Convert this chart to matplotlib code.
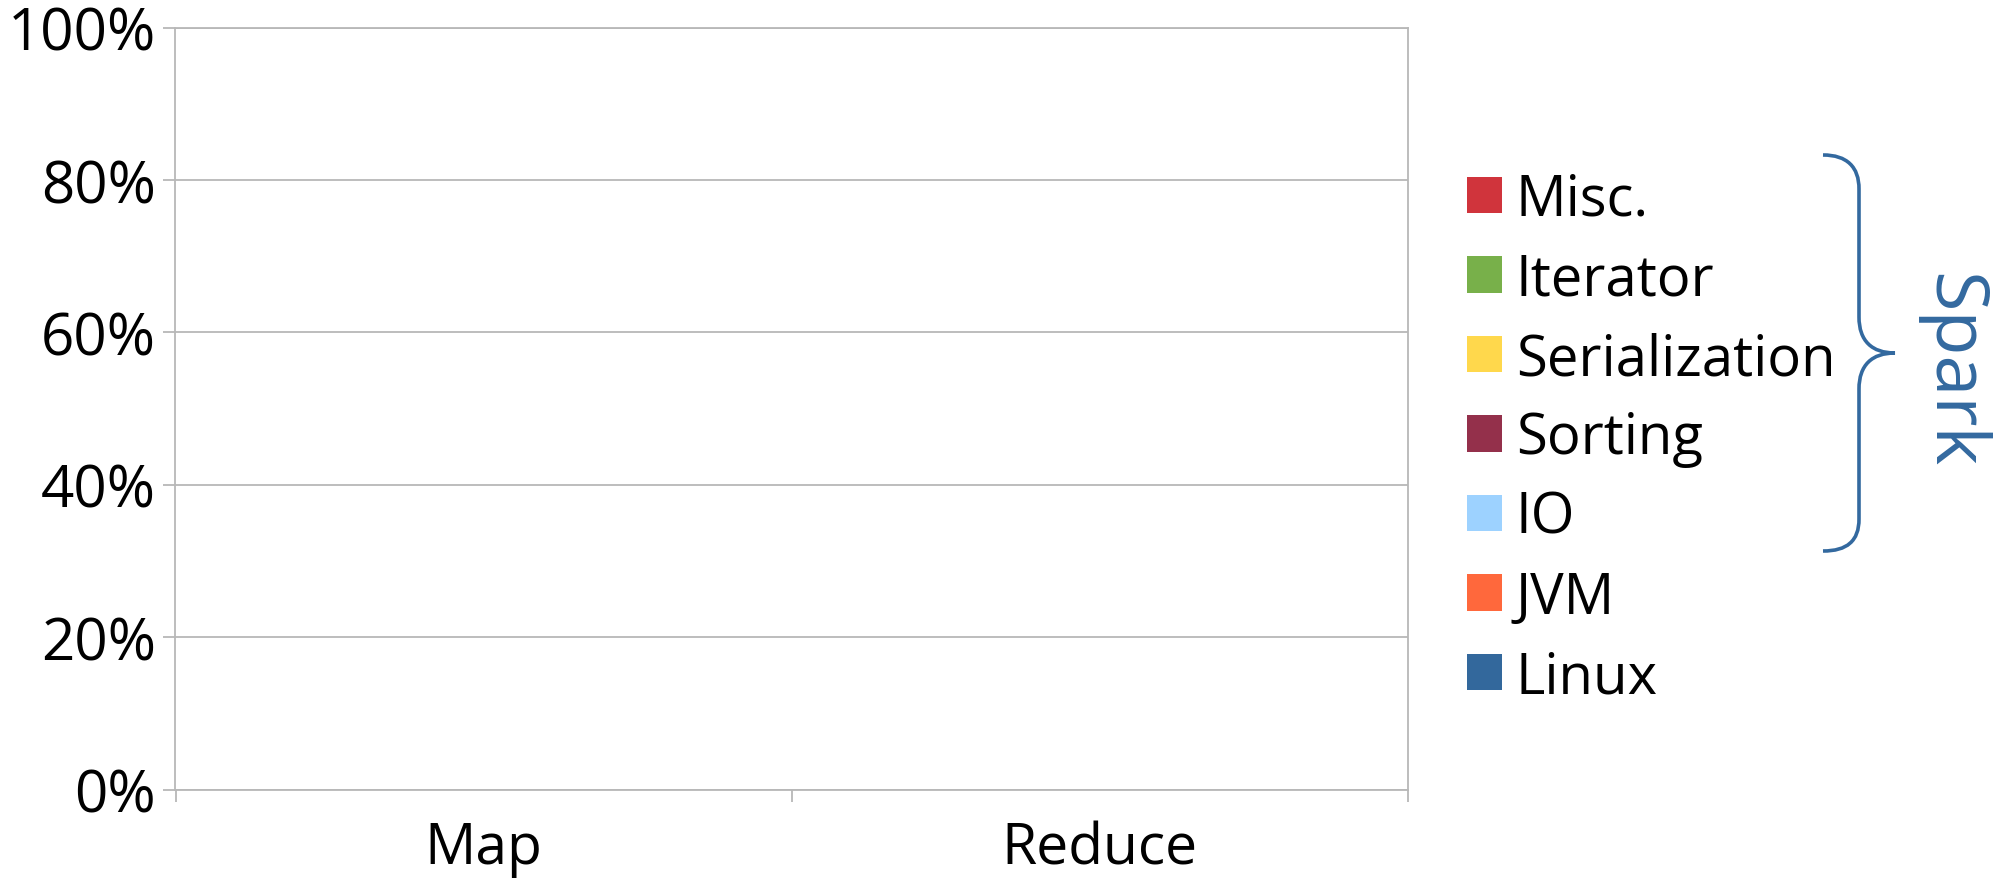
import matplotlib
matplotlib.use("Agg")
import matplotlib.pyplot as plt
from matplotlib.path import Path
from matplotlib.patches import PathPatch
from matplotlib.transforms import Affine2D
from matplotlib.ticker import FixedLocator, NullFormatter, FixedFormatter

plt.rcParams["font.family"] = ["Open Sans", "DejaVu Sans"]

# Categories and stacked series (bottom to top), shares in percent
categories = ["Map", "Reduce"]
series_names = ["Linux", "JVM", "IO", "Sorting", "Serialization", "Iterator", "Misc."]
linux = [0, 0]
jvm = [0, 0]
io = [0, 0]
sorting = [0, 0]
serialization = [0, 0]
iterator = [0, 0]
misc = [0, 0]
series_values = [linux, jvm, io, sorting, serialization, iterator, misc]
series_colors = ["#33689c", "#ff683c", "#9dd2ff", "#94304b", "#ffd84c", "#78b04a", "#d0343c"]
y_ticks = [0, 20, 40, 60, 80, 100]
y_tick_labels = ["0%", "20%", "40%", "60%", "80%", "100%"]
group_label = "Spark"

W, H = 1999, 879
fig = plt.figure(figsize=(W / 100, H / 100), dpi=100)
px = Affine2D().scale(1 / W, -1 / H).translate(0, 1) + fig.transFigure

left, right, top, bottom = 175.5, 1407.5, 28.5, 790.5
ax = fig.add_axes([left / W, 1 - bottom / H, (right - left) / W, (bottom - top) / H])

grid_grey = "#b8b8b8"
x = list(range(len(categories)))
base = [0] * len(categories)
handles = []
for name, vals, col in zip(series_names, series_values, series_colors):
    bars = ax.bar(x, vals, width=0.5, bottom=base, color=col, label=name)
    handles.append(bars)
    base = [b + v for b, v in zip(base, vals)]

ax.set_xlim(-0.5, len(categories) - 0.5)
ax.set_ylim(0, 100)
ax.set_yticks(y_ticks)
ax.set_yticklabels(y_tick_labels)
ax.yaxis.grid(True, color=grid_grey, linewidth=1.3)
ax.set_axisbelow(True)

ax.xaxis.set_major_locator(FixedLocator([i - 0.5 for i in range(len(categories) + 1)]))
ax.xaxis.set_major_formatter(NullFormatter())
ax.xaxis.set_minor_locator(FixedLocator(x))
ax.xaxis.set_minor_formatter(FixedFormatter(categories))
ax.tick_params(axis="x", which="major", length=8.6, width=1.3, color=grid_grey, direction="out")
ax.tick_params(axis="x", which="minor", length=0, pad=22, labelsize=41)
ax.tick_params(axis="y", which="major", length=8.6, width=1.3, color=grid_grey,
               direction="out", pad=5.5, labelsize=42)
for s in ax.spines.values():
    s.set_color(grid_grey)
    s.set_linewidth(1.3)

leg_fs = 40.5
leg = fig.legend(handles[::-1], series_names[::-1], loc="upper left",
                 bbox_to_anchor=(1467 / W, 1 - 173 / H), frameon=False,
                 fontsize=leg_fs, handlelength=0.62, handleheight=0.62,
                 handletextpad=0.25, labelspacing=0.4, borderpad=0, borderaxespad=0)

# Curly brace grouping the Spark-internal categories
brace_color = "#33699f"
verts = [
    (1823, 156), (1847, 156), (1859, 168), (1859, 190),
    (1859, 318),
    (1859, 342), (1872, 354), (1895, 354),
    (1872, 354), (1859, 366), (1859, 390),
    (1859, 520),
    (1859, 542), (1847, 552), (1823, 552),
]
codes = [Path.MOVETO, Path.CURVE4, Path.CURVE4, Path.CURVE4,
         Path.LINETO,
         Path.CURVE4, Path.CURVE4, Path.CURVE4,
         Path.CURVE4, Path.CURVE4, Path.CURVE4,
         Path.LINETO,
         Path.CURVE4, Path.CURVE4, Path.CURVE4]
fig.add_artist(PathPatch(Path(verts, codes), transform=px, fill=False,
                         edgecolor=brace_color, linewidth=2.6, capstyle="butt"))
fig.text(1951, 371, group_label, transform=px, rotation=-90, ha="center", va="center",
         fontsize=53, color=brace_color)

fig.savefig("out.png", dpi=100)
